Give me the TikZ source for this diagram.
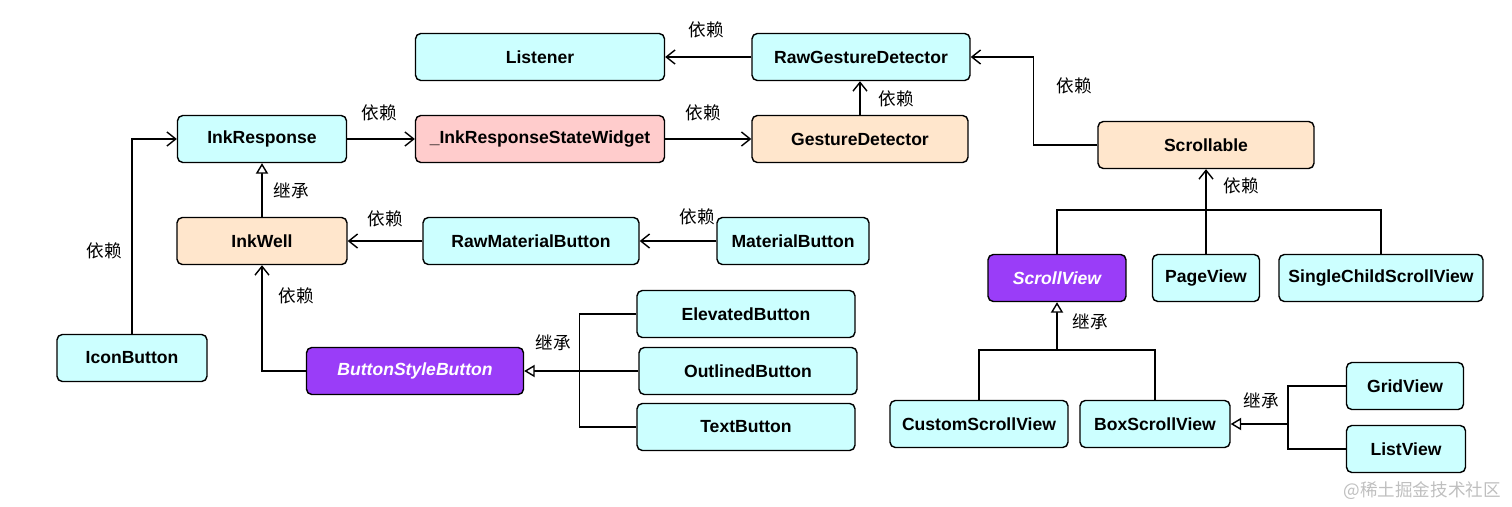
\documentclass[tikz,border=0pt]{standalone}
\usepackage{fontspec}
\setmainfont{Liberation Sans}
\newfontfamily\cjk{Noto Sans CJK SC}
\usepackage{tikz}
\usetikzlibrary{positioning, arrows.meta}
\definecolor{cyanbox}{HTML}{CCFFFF}
\definecolor{orangebox}{HTML}{FFE6CC}
\definecolor{pinkbox}{HTML}{FFCCCC}
\definecolor{purplebox}{HTML}{9A3DF8}
\tikzstyle{dep} = [line width=0.8pt,-{Straight Barb[length=5pt,width=8pt]}]

\begin{document}
\begin{tikzpicture}[
        x=0.02cm, y=-0.02cm,
        every node/.style={font=\bfseries\fontsize{10}{12}\selectfont},
        cls/.style={rectangle, rounded corners=3pt, minimum height=0.94cm, text centered, draw=black, line width=0.8pt, fill=cyanbox},
        impl/.style={cls, fill=orangebox},
        state/.style={cls, fill=pinkbox},
        abstract/.style={cls, fill=purplebox, text=white, font=\bfseries\itshape\fontsize{10}{12}\selectfont},
        lbl/.style={font=\cjk\fontsize{10}{12}\selectfont},
        inherit/.style={line width=0.8pt,-{Triangle[open,length=6pt,width=7pt,fill=white]}},
        link/.style={line width=0.8pt}
    ]
    \useasboundingbox (0,0) rectangle (1512,507);

    % Nodes
    \node (listener) [cls, minimum width=4.98cm] at (540,57) {Listener};
    \node (rawgesture) [cls, minimum width=4.36cm] at (861,57) {RawGestureDetector};
    \node (inkresponse) [cls, minimum width=3.38cm] at (262,139) {InkResponse};
    \node (inkstate) [state, minimum width=4.98cm] at (540,139) {\_InkResponseStateWidget};
    \node (gesture) [impl, minimum width=4.32cm] at (860,139) {GestureDetector};
    \node (scrollable) [impl, minimum width=4.32cm] at (1206,145) {Scrollable};
    \node (inkwell) [impl, minimum width=3.4cm] at (262,241) {InkWell};
    \node (rawmaterial) [cls, minimum width=4.32cm] at (531,241) {RawMaterialButton};
    \node (material) [cls, minimum width=3.04cm] at (793,241) {MaterialButton};
    \node (iconbtn) [cls, minimum width=3.0cm] at (132,358) {IconButton};
    \node (stylebtn) [abstract, minimum width=4.34cm] at (415,371) {ButtonStyleButton};
    \node (elevated) [cls, minimum width=4.36cm] at (746,314) {ElevatedButton};
    \node (outlined) [cls, minimum width=4.36cm] at (748,371) {OutlinedButton};
    \node (textbtn) [cls, minimum width=4.36cm] at (746,427) {TextButton};
    \node (scrollview) [abstract, minimum width=2.76cm] at (1057,278) {ScrollView};
    \node (pageview) [cls, minimum width=2.14cm] at (1206,278) {PageView};
    \node (singlechild) [cls, minimum width=4.08cm] at (1381,278) {SingleChildScrollView};
    \node (customsv) [cls, minimum width=3.56cm] at (979,424) {CustomScrollView};
    \node (boxsv) [cls, minimum width=3.0cm] at (1155,424) {BoxScrollView};
    \node (gridview) [cls, minimum width=2.34cm] at (1405,386) {GridView};
    \node (listview) [cls, minimum width=2.38cm] at (1406,449) {ListView};

    % Junctions
    \coordinate (sbar) at (1206,210);
    \coordinate (vbar) at (1057,350);
    \coordinate (gtrunk) at (1288,424);

    % Arrows
    \draw [dep] (rawgesture) -- (listener);
    \draw [dep] (inkresponse) -- (inkstate);
    \draw [dep] (inkstate) -- (gesture);
    \draw [dep] (gesture.north) -- (gesture.north |- rawgesture.south);
    \draw [dep] (scrollable.west) -- ++(-64,0) |- (rawgesture.east);
    \draw [dep] (iconbtn.north) |- (inkresponse.west);
    \draw [inherit] (inkwell.north) -- (inkresponse.south);
    \draw [dep] (rawmaterial) -- (inkwell);
    \draw [dep] (material) -- (rawmaterial);
    \draw [dep] (stylebtn.west) -| (inkwell.south);
    \draw [link] (elevated.west) -- ++(-57,0) |- (textbtn.west);
    \draw [inherit] (outlined.west) -- (stylebtn.east);
    \draw [link] (scrollview.north) |- (sbar) -| (singlechild.north);
    \draw [dep] (pageview.north) -- (scrollable.south);
    \draw [link] (customsv.north) |- (vbar) -| (boxsv.north);
    \draw [inherit] (vbar) -- (scrollview.south);
    \draw [link] (gridview.west) -- ++(-58,0) |- (listview.west);
    \draw [inherit] (gtrunk) -- (boxsv.east);

    % Labels
    \node (l1) [lbl] at (706,30) {依赖};
    \node (l2) [lbl] at (379,113) {依赖};
    \node (l3) [lbl] at (703,113) {依赖};
    \node (l4) [lbl] at (896,99) {依赖};
    \node (l5) [lbl] at (1074,86) {依赖};
    \node (l6) [lbl] at (104,251) {依赖};
    \node (l7) [lbl] at (291,191) {继承};
    \node (l8) [lbl] at (385,219) {依赖};
    \node (l9) [lbl] at (697,217) {依赖};
    \node (l10) [lbl] at (296,296) {依赖};
    \node (l11) [lbl] at (553,343) {继承};
    \node (l12) [lbl] at (1241,186) {依赖};
    \node (l13) [lbl] at (1090,322) {继承};
    \node (l14) [lbl] at (1261,401) {继承};

    % Watermark
    \node (mark) [font=\cjk\fontsize{10}{12}\selectfont, text=black!25, anchor=east] at (1507,491) {@稀土掘金技术社区};

\end{tikzpicture}
\end{document}
